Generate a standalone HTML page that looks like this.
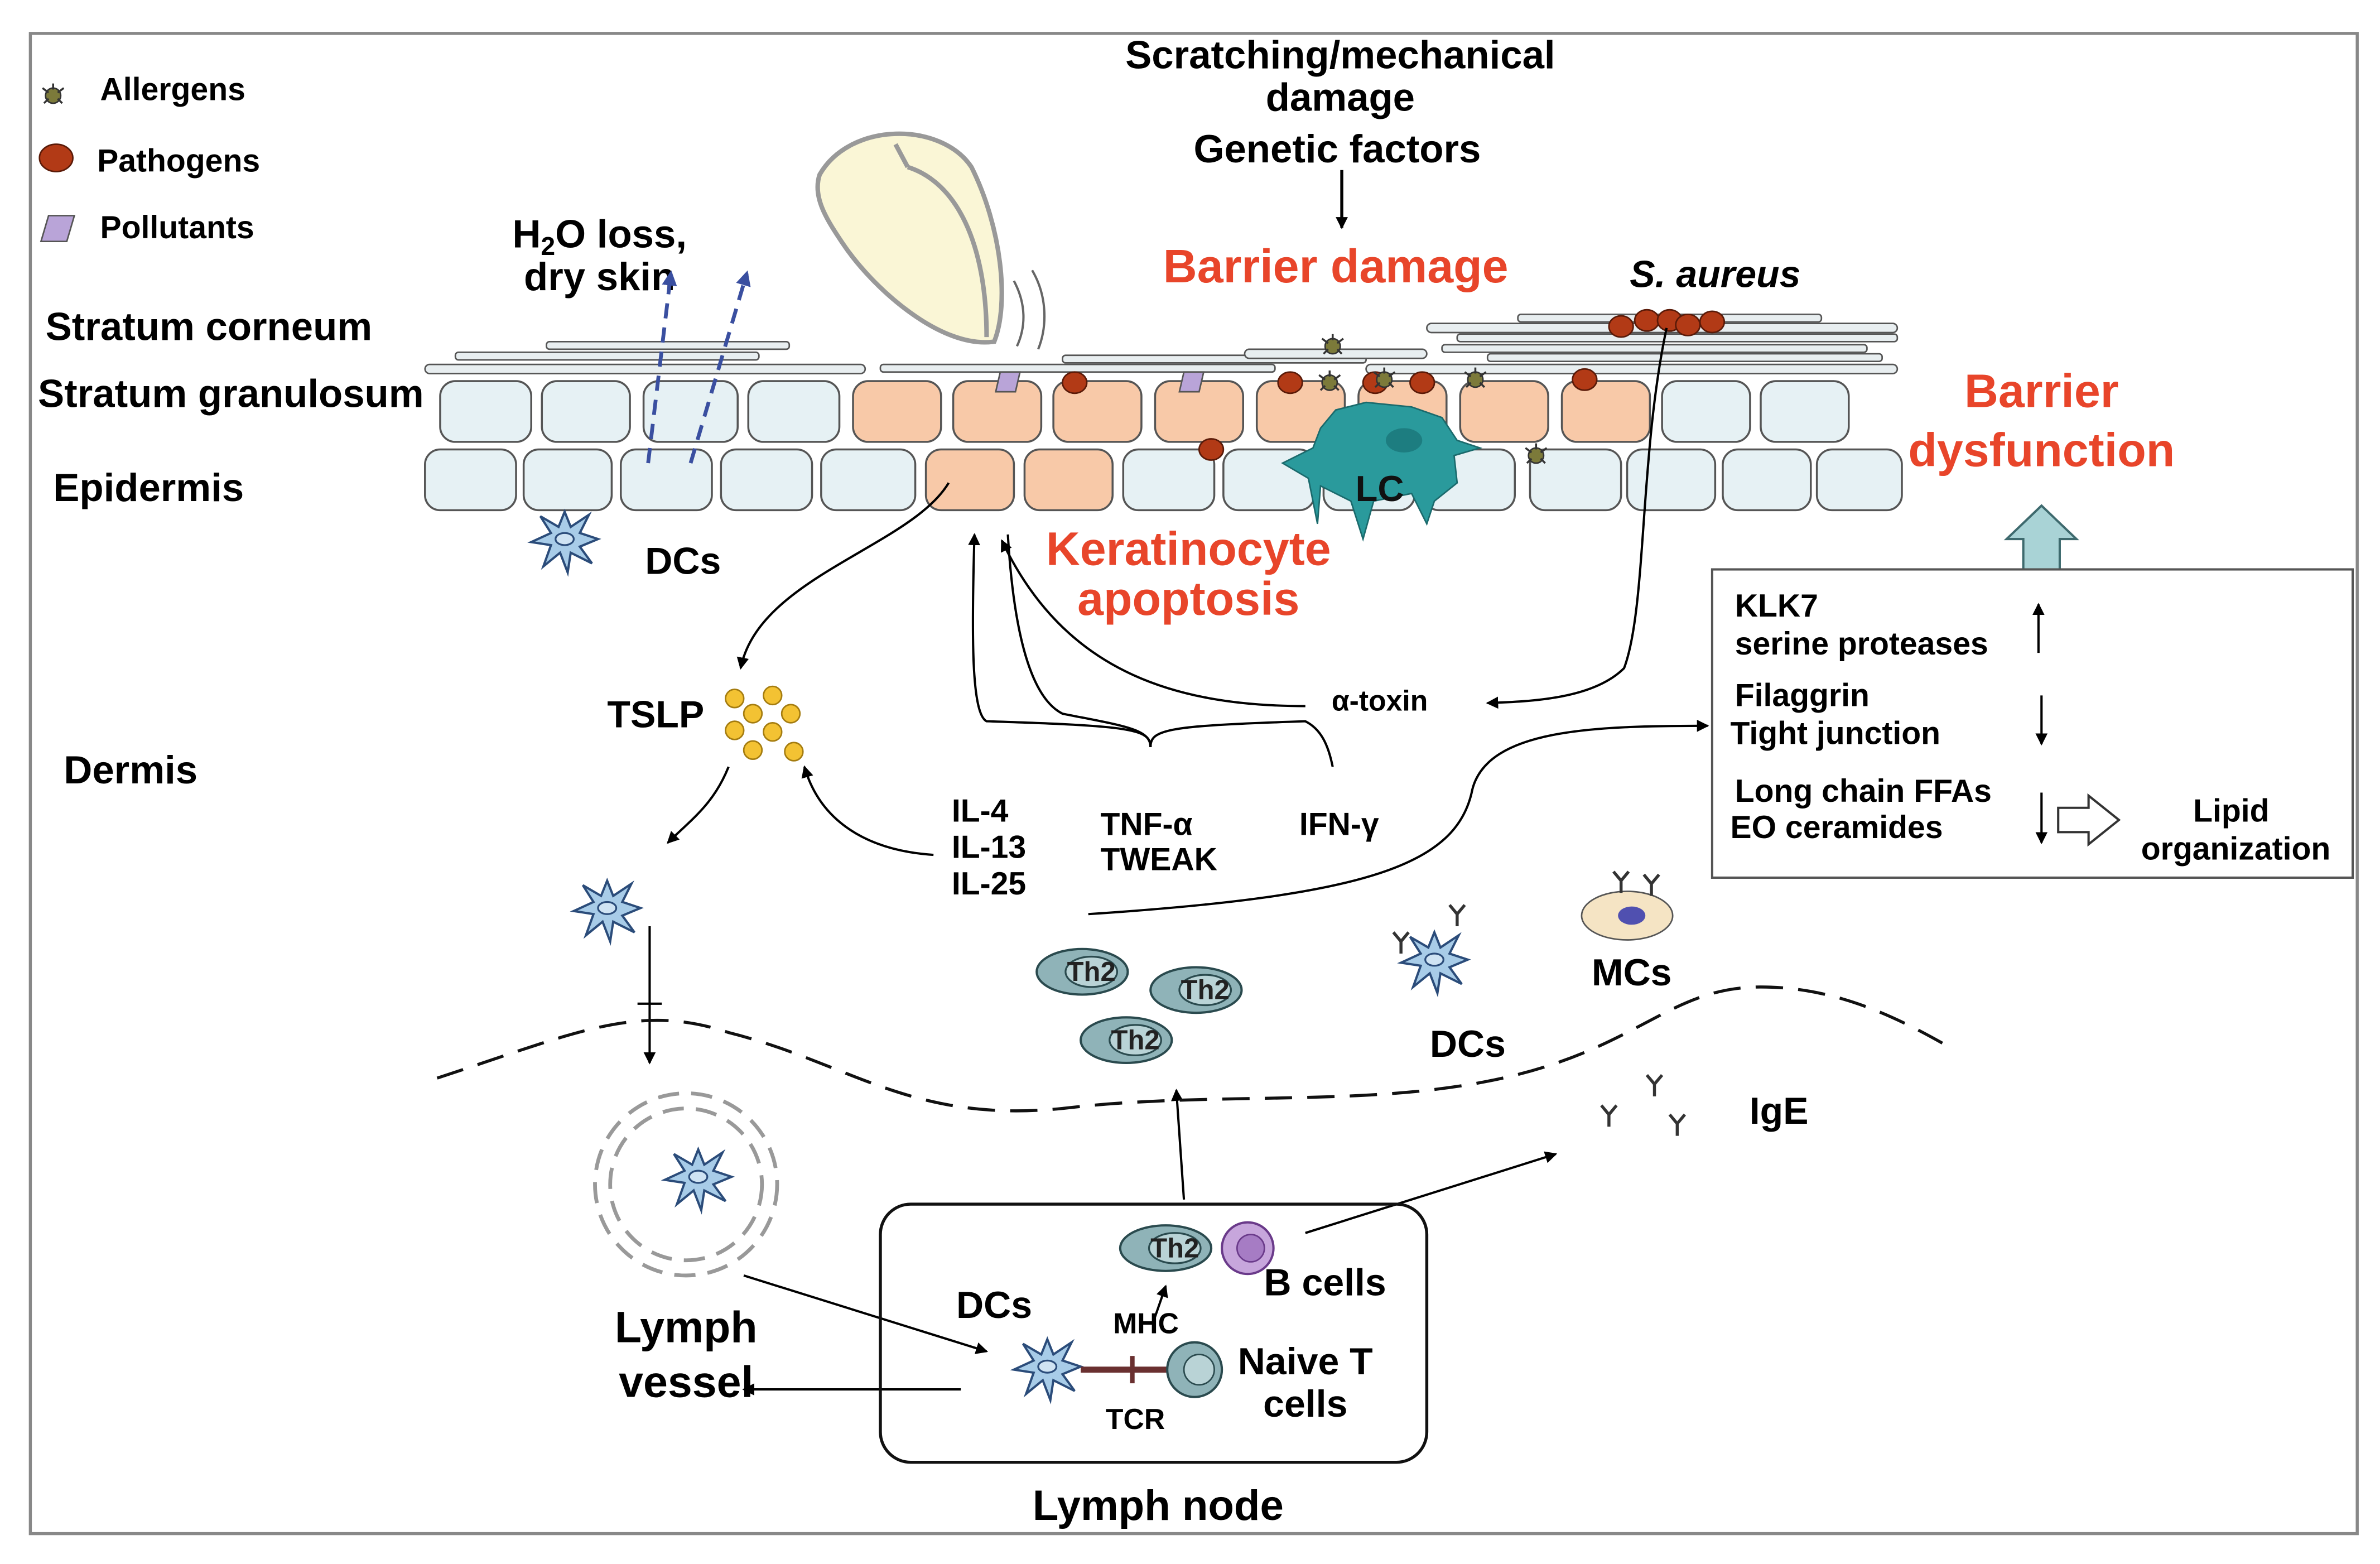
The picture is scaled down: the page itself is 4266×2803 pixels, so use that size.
<!DOCTYPE html>
<html><head><meta charset="utf-8"><style>
html,body{margin:0;padding:0;background:#fff}
svg{display:block}
text{font-family:"Liberation Sans",sans-serif;font-weight:bold}
</style></head><body>
<svg width="4266" height="2803" viewBox="0 0 1568 1030" preserveAspectRatio="none" xmlns="http://www.w3.org/2000/svg">
<defs>
<marker id="ah" markerWidth="8" markerHeight="8" refX="7" refY="4" orient="auto" markerUnits="userSpaceOnUse"><path d="M0,0 L8,4 L0,8 z" fill="#000"/></marker>
<marker id="ahb" markerWidth="10" markerHeight="10" refX="8" refY="5" orient="auto" markerUnits="userSpaceOnUse"><path d="M0,0 L10,5 L0,10 z" fill="#3a4fa0"/></marker>
<g id="dc">
<path d="M0,-18 L4,-8 L16,-16 L10,-4 L22,0 L10,5 L18,16 L4,9 L2,22 L-3,9 L-14,18 L-9,4 L-22,2 L-9,-4 L-16,-15 L-4,-8 z" fill="#a8cce8" stroke="#2b4c7a" stroke-width="1.5"/>
<ellipse cx="0" cy="0" rx="6" ry="4" fill="#cfe3f3" stroke="#2b4c7a" stroke-width="1.2"/>
</g>
<g id="th2"><ellipse cx="0" cy="0" rx="30" ry="15" fill="#8fb3b8" stroke="#2a4a4e" stroke-width="1.5"/><ellipse cx="6" cy="0" rx="17" ry="10" fill="#b9d3d6" stroke="#2a4a4e" stroke-width="1.2"/><text x="6" y="6" font-size="18" text-anchor="middle" font-weight="normal" fill="#222">Th2</text></g>
<g id="path"><ellipse rx="8" ry="7" fill="#b23a16" stroke="#5a1a08"/></g>
<g id="alg"><circle r="5" fill="#7c7a3a" stroke="#333"/><path d="M-7,-5 L-3,-2 M7,-5 L3,-2 M0,-8 L0,-4 M-6,5 L-3,2 M6,5 L3,2" stroke="#333" stroke-width="1.3"/></g>
<g id="ab"><path d="M0,0 L0,-8 M0,-8 L-5,-14 M0,-8 L5,-14" stroke="#333" stroke-width="2" fill="none"/></g>
</defs>
<rect width="1568" height="1030" fill="#fff"/>
<rect x="20" y="22" width="1533" height="988" fill="none" stroke="#888" stroke-width="2"/>

<use href="#alg" x="35" y="63"/>
<text x="66" y="66" font-size="21">Allergens</text>
<ellipse cx="37" cy="104" rx="11" ry="9" fill="#b23a16" stroke="#5a1a08"/>
<text x="64" y="113" font-size="21">Pathogens</text>
<path d="M27,159 L32,142 L49,142 L44,159 z" fill="#b9a4d8" stroke="#555"/>
<text x="66" y="157" font-size="21">Pollutants</text>

<text x="883" y="45" font-size="26" text-anchor="middle">Scratching/mechanical</text>
<text x="883" y="73" font-size="26" text-anchor="middle">damage</text>
<text x="881" y="107" font-size="26" text-anchor="middle">Genetic factors</text>
<line x1="884" y1="112" x2="884" y2="150" stroke="#000" stroke-width="2" marker-end="url(#ah)"/>
<text x="880" y="186" font-size="31" fill="#e8452a" text-anchor="middle">Barrier damage</text>
<text x="1130" y="189" font-size="25" font-style="italic" text-anchor="middle">S. aureus</text>
<text x="395" y="163" font-size="26" text-anchor="middle">H<tspan font-size="17" dy="5">2</tspan><tspan dy="-5">O loss,</tspan></text>
<text x="395" y="191" font-size="26" text-anchor="middle">dry skin</text>

<text x="30" y="224" font-size="26">Stratum corneum</text>
<text x="25" y="268" font-size="26">Stratum granulosum</text>
<text x="35" y="330" font-size="26">Epidermis</text>
<text x="42" y="516" font-size="26">Dermis</text>

<path d="M540,115 C560,80 620,80 640,110 C660,150 665,200 655,225 C620,230 575,190 555,160 C545,145 535,130 540,115 z" fill="#faf6d6" stroke="#999" stroke-width="3"/>
<path d="M590,95 L598,110 M598,110 C630,120 650,160 650,222" fill="none" stroke="#999" stroke-width="3"/>
<path d="M668,185 C676,200 676,215 670,228 M680,178 C690,195 690,215 684,230" fill="none" stroke="#666" stroke-width="1.5"/>

<g fill="#e8eef0" stroke="#555" stroke-width="1">
<rect x="280" y="240" width="290" height="6" rx="3"/>
<rect x="300" y="232" width="200" height="5" rx="2"/>
<rect x="360" y="225" width="160" height="5" rx="2"/>
<rect x="580" y="240" width="260" height="5" rx="2"/>
<rect x="700" y="234" width="200" height="5" rx="2"/>
<rect x="820" y="230" width="120" height="6" rx="3"/>
<rect x="900" y="240" width="350" height="6" rx="3"/>
<rect x="940" y="213" width="310" height="6" rx="3"/>
<rect x="960" y="220" width="290" height="5" rx="2"/>
<rect x="950" y="227" width="280" height="5" rx="2"/>
<rect x="980" y="233" width="260" height="5" rx="2"/>
<rect x="1000" y="207" width="200" height="5" rx="2"/>
</g>

<g stroke="#555" stroke-width="1.3">
<rect x="290" y="251" width="60" height="40" rx="10" fill="#e6f1f4"/>
<rect x="357" y="251" width="58" height="40" rx="10" fill="#e6f1f4"/>
<rect x="424" y="251" width="62" height="40" rx="10" fill="#e6f1f4"/>
<rect x="493" y="251" width="60" height="40" rx="10" fill="#e6f1f4"/>
<rect x="562" y="251" width="58" height="40" rx="10" fill="#f8c9a8"/>
<rect x="628" y="251" width="58" height="40" rx="10" fill="#f8c9a8"/>
<rect x="694" y="251" width="58" height="40" rx="10" fill="#f8c9a8"/>
<rect x="761" y="251" width="58" height="40" rx="10" fill="#f8c9a8"/>
<rect x="828" y="251" width="58" height="40" rx="10" fill="#f8c9a8"/>
<rect x="895" y="251" width="58" height="40" rx="10" fill="#f8c9a8"/>
<rect x="962" y="251" width="58" height="40" rx="10" fill="#f8c9a8"/>
<rect x="1029" y="251" width="58" height="40" rx="10" fill="#f8c9a8"/>
<rect x="1095" y="251" width="58" height="40" rx="10" fill="#e6f1f4"/>
<rect x="1160" y="251" width="58" height="40" rx="10" fill="#e6f1f4"/>
</g>
<g stroke="#555" stroke-width="1.3">
<rect x="280" y="296" width="60" height="40" rx="10" fill="#e6f1f4"/>
<rect x="345" y="296" width="58" height="40" rx="10" fill="#e6f1f4"/>
<rect x="409" y="296" width="60" height="40" rx="10" fill="#e6f1f4"/>
<rect x="475" y="296" width="60" height="40" rx="10" fill="#e6f1f4"/>
<rect x="541" y="296" width="62" height="40" rx="10" fill="#e6f1f4"/>
<rect x="610" y="296" width="58" height="40" rx="10" fill="#f8c9a8"/>
<rect x="675" y="296" width="58" height="40" rx="10" fill="#f8c9a8"/>
<rect x="740" y="296" width="60" height="40" rx="10" fill="#e6f1f4"/>
<rect x="806" y="296" width="60" height="40" rx="10" fill="#e6f1f4"/>
<rect x="872" y="296" width="60" height="40" rx="10" fill="#e6f1f4"/>
<rect x="938" y="296" width="60" height="40" rx="10" fill="#e6f1f4"/>
<rect x="1008" y="296" width="60" height="40" rx="10" fill="#e6f1f4"/>
<rect x="1072" y="296" width="58" height="40" rx="10" fill="#e6f1f4"/>
<rect x="1135" y="296" width="58" height="40" rx="10" fill="#e6f1f4"/>
<rect x="1197" y="296" width="56" height="40" rx="10" fill="#e6f1f4"/>
</g>

<path d="M427,305 L442,180" stroke="#3a4fa0" stroke-width="2.5" stroke-dasharray="10,6" fill="none" marker-end="url(#ahb)"/>
<path d="M455,305 L492,180" stroke="#3a4fa0" stroke-width="2.5" stroke-dasharray="10,6" fill="none" marker-end="url(#ahb)"/>

<path d="M656,258 L659,245 L672,245 L669,258 z" fill="#b9a4d8" stroke="#555"/>
<path d="M777,258 L780,245 L793,245 L790,258 z" fill="#b9a4d8" stroke="#555"/>
<use href="#path" x="708" y="252"/><use href="#path" x="850" y="252"/><use href="#path" x="906" y="252"/>
<use href="#path" x="937" y="252"/><use href="#path" x="1044" y="250"/><use href="#path" x="798" y="296"/>
<use href="#alg" x="878" y="228"/><use href="#alg" x="876" y="252"/><use href="#alg" x="912" y="250"/><use href="#alg" x="972" y="250"/><use href="#alg" x="1012" y="300"/>
<use href="#path" x="1068" y="215"/><use href="#path" x="1085" y="211"/><use href="#path" x="1100" y="211"/><use href="#path" x="1112" y="214"/><use href="#path" x="1128" y="212"/>

<path d="M870,282 L880,270 L900,265 L930,268 L950,275 L960,290 L975,295 L958,300 L960,318 L945,330 L940,345 L930,325 L905,330 L898,355 L890,330 L870,320 L868,345 L862,315 L845,305 L865,295 z" fill="#2a9a9c" stroke="#1a6a6c"/>
<ellipse cx="925" cy="290" rx="12" ry="8" fill="#1d7d80"/>
<text x="893" y="330" font-size="24" fill="#111">LC</text>

<text x="1345" y="268" font-size="31" fill="#e8452a" text-anchor="middle">Barrier</text>
<text x="1345" y="307" font-size="31" fill="#e8452a" text-anchor="middle">dysfunction</text>
<path d="M1333,387 L1333,355 L1322,355 L1345,333 L1368,355 L1357,355 L1357,387 z" fill="#a9d3d6" stroke="#3e6a6e" stroke-width="1.5"/>

<text x="783" y="372" font-size="31" fill="#e8452a" text-anchor="middle">Keratinocyte</text>
<text x="783" y="405" font-size="31" fill="#e8452a" text-anchor="middle">apoptosis</text>

<use href="#dc" x="372" y="355"/>
<text x="450" y="378" font-size="25" text-anchor="middle">DCs</text>

<rect x="1128" y="375" width="422" height="203" fill="#fff" stroke="#555" stroke-width="1.5"/>
<g font-size="21">
<text x="1143" y="406">KLK7</text>
<text x="1143" y="431">serine proteases</text>
<text x="1143" y="465">Filaggrin</text>
<text x="1140" y="490">Tight junction</text>
<text x="1143" y="528">Long chain FFAs</text>
<text x="1140" y="552">EO ceramides</text>
<text x="1470" y="541" text-anchor="middle">Lipid</text>
<text x="1473" y="566" text-anchor="middle">organization</text>
</g>
<line x1="1343" y1="430" x2="1343" y2="398" stroke="#000" stroke-width="1.5" marker-end="url(#ah)"/>
<line x1="1345" y1="458" x2="1345" y2="490" stroke="#000" stroke-width="1.5" marker-end="url(#ah)"/>
<line x1="1345" y1="522" x2="1345" y2="555" stroke="#000" stroke-width="1.5" marker-end="url(#ah)"/>
<path d="M1356,532 L1376,532 L1376,524 L1396,540 L1376,556 L1376,548 L1356,548 z" fill="#fff" stroke="#333" stroke-width="1.5"/>

<text x="432" y="479" font-size="25" text-anchor="middle">TSLP</text>
<g fill="#f3c233" stroke="#a47c10">
<circle cx="484" cy="460" r="6"/><circle cx="509" cy="458" r="6"/><circle cx="496" cy="470" r="6"/><circle cx="521" cy="470" r="6"/>
<circle cx="484" cy="481" r="6"/><circle cx="509" cy="482" r="6"/><circle cx="496" cy="494" r="6"/><circle cx="523" cy="495" r="6"/>
</g>

<g fill="none" stroke="#000" stroke-width="1.5">
<path d="M625,318 C600,360 500,380 488,440" marker-end="url(#ah)"/>
<path d="M480,505 C470,530 455,540 440,555" marker-end="url(#ah)"/>
<path d="M615,563 C570,560 540,540 530,505" marker-end="url(#ah)"/>
<path d="M758,492 C758,480 745,478 650,475 C640,470 640,420 642,352" marker-end="url(#ah)"/>
<path d="M758,492 C758,480 770,478 860,475 C870,480 875,490 878,505"/>
<path d="M758,492 C758,480 740,478 700,470 C680,460 668,420 664,352" />
<path d="M860,465 C770,465 700,440 660,356" marker-end="url(#ah)"/>
<path d="M1098,216 C1080,300 1085,400 1070,440 C1050,460 1010,462 980,463" marker-end="url(#ah)"/>
<path d="M717,602 C900,590 960,570 970,520 C980,480 1050,478 1125,478" marker-end="url(#ah)"/>
<path d="M428,610 L428,700" marker-end="url(#ah)"/>
<line x1="420" y1="661" x2="436" y2="661"/>
<path d="M780,790 L775,718" marker-end="url(#ah)"/>
<path d="M860,812 L1025,760" marker-end="url(#ah)"/>
<path d="M490,840 L650,890" marker-end="url(#ah)"/>
<path d="M633,915 L490,915" marker-end="url(#ah)"/>
<path d="M760,870 L768,847" marker-end="url(#ah)"/>
</g>
<text x="909" y="468" font-size="19" font-weight="normal" text-anchor="middle">α-toxin</text>

<g font-size="21">
<text x="627" y="541">IL-4</text>
<text x="627" y="565">IL-13</text>
<text x="627" y="589">IL-25</text>
<text x="725" y="550">TNF-α</text>
<text x="725" y="573">TWEAK</text>
<text x="856" y="550">IFN-γ</text>
</g>

<use href="#dc" x="400" y="598"/>
<use href="#dc" x="945" y="632"/>
<text x="967" y="696" font-size="25" text-anchor="middle">DCs</text>
<use href="#ab" x="923" y="628"/>
<use href="#ab" x="960" y="610"/>
<ellipse cx="1072" cy="603" rx="30" ry="16" fill="#f5e4c4" stroke="#555"/>
<ellipse cx="1075" cy="603" rx="9" ry="6" fill="#5050b0"/>
<use href="#ab" x="1068" y="588"/><use href="#ab" x="1088" y="590"/>
<text x="1075" y="649" font-size="25" text-anchor="middle">MCs</text>

<use href="#th2" x="713" y="640"/>
<use href="#th2" x="788" y="652"/>
<use href="#th2" x="742" y="685"/>

<path d="M288,710 C380,680 420,660 480,680 C560,700 600,740 700,730 C800,718 900,730 990,710 C1080,690 1100,650 1160,650 C1210,650 1250,670 1285,690" fill="none" stroke="#111" stroke-width="2" stroke-dasharray="18,10"/>

<use href="#ab" x="1060" y="742"/><use href="#ab" x="1090" y="722"/><use href="#ab" x="1105" y="748"/>
<text x="1172" y="740" font-size="25" text-anchor="middle">IgE</text>

<circle cx="452" cy="780" r="60" fill="none" stroke="#999" stroke-width="2.5" stroke-dasharray="14,8"/>
<circle cx="452" cy="780" r="50" fill="none" stroke="#999" stroke-width="2.5" stroke-dasharray="14,8"/>
<use href="#dc" x="460" y="775"/>
<text x="452" y="884" font-size="29" text-anchor="middle">Lymph</text>
<text x="452" y="920" font-size="29" text-anchor="middle">vessel</text>

<rect x="580" y="793" width="360" height="170" rx="20" fill="none" stroke="#111" stroke-width="2"/>
<text x="763" y="1001" font-size="28" text-anchor="middle">Lymph node</text>
<use href="#th2" x="768" y="822"/>
<circle cx="822" cy="822" r="17" fill="#c7a6dc" stroke="#6a3a8a" stroke-width="1.5"/>
<circle cx="824" cy="822" r="9" fill="#a67cc4" stroke="#6a3a8a"/>
<text x="873" y="853" font-size="25" text-anchor="middle">B cells</text>
<text x="655" y="868" font-size="25" text-anchor="middle">DCs</text>
<text x="755" y="878" font-size="19" font-weight="normal" text-anchor="middle">MHC</text>
<text x="748" y="941" font-size="19" font-weight="normal" text-anchor="middle">TCR</text>
<use href="#dc" x="690" y="900"/>
<line x1="712" y1="902" x2="772" y2="902" stroke="#6a3030" stroke-width="4"/>
<line x1="746" y1="893" x2="746" y2="911" stroke="#6a3030" stroke-width="3"/>
<circle cx="787" cy="902" r="18" fill="#8fb3b8" stroke="#2a4a4e" stroke-width="1.5"/>
<circle cx="790" cy="902" r="10" fill="#b9d3d6" stroke="#2a4a4e"/>
<text x="860" y="905" font-size="25" text-anchor="middle">Naive T</text>
<text x="860" y="933" font-size="25" text-anchor="middle">cells</text>
</svg>
</body></html>
